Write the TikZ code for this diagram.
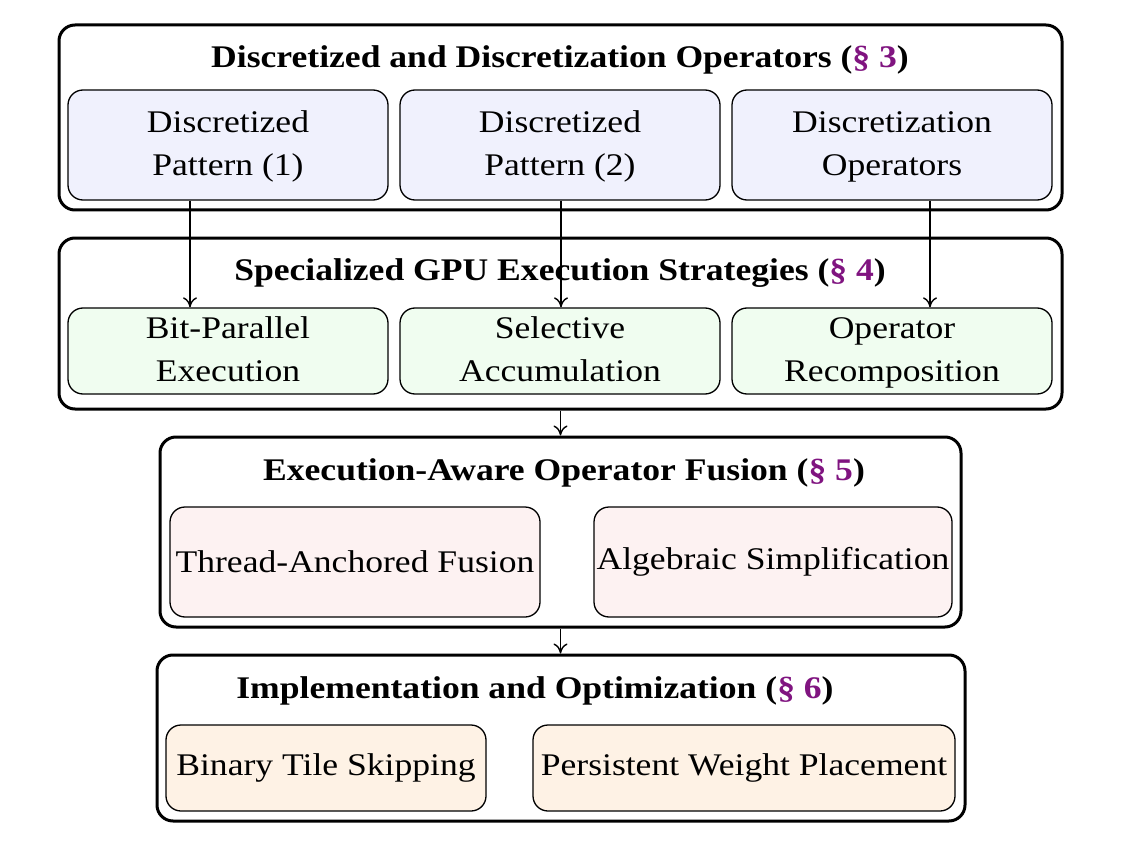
\documentclass[tikz,border=0pt]{standalone}
\usepackage{fontspec}
\setmainfont{Liberation Serif}[FakeStretch=1.13]
\usetikzlibrary{arrows.meta}
\definecolor{secc}{RGB}{128,20,128}
\definecolor{fblue}{RGB}{240,241,253}
\definecolor{fgreen}{RGB}{240,253,240}
\definecolor{fred}{RGB}{253,242,242}
\definecolor{forange}{RGB}{254,242,229}
\begin{document}
\begin{tikzpicture}[x=1pt,y=-1pt,
  outer/.style={draw,line width=3pt,rounded corners=16pt,inner sep=0pt},
  inner/.style={draw,line width=1.3pt,rounded corners=15pt,inner sep=0pt,align=center,
     font=\fontsize{31.5}{43}\selectfont},
  ttl/.style={font=\fontsize{31.5}{38}\selectfont\bfseries,inner sep=0pt},
  arr/.style={line width=1.4pt,-{To[length=10pt,width=14pt,line width=1.4pt]}}]
\useasboundingbox (0,0) rectangle (1144,848);
% outer boxes
\node[outer,minimum width=1003pt,minimum height=185pt] (o1) at (560.5,117.5) {};
\node[outer,minimum width=1003pt,minimum height=171pt] (o2) at (560.5,323.5) {};
\node[outer,minimum width=801pt,minimum height=190pt] (o3) at (560.5,532) {};
\node[outer,minimum width=808pt,minimum height=166pt] (o4) at (561,738) {};
% titles
\node[ttl] (t1) at (560,60) {Discretized and Discretization Operators (\textcolor{secc}{§ 3})};
\node[ttl] (t2) at (560,273) {Specialized GPU Execution Strategies (\textcolor{secc}{§ 4})};
\node[ttl] (t3) at (564,473) {Execution-Aware Operator Fusion (\textcolor{secc}{§ 5})};
\node[ttl] (t4) at (535,691) {Implementation and Optimization (\textcolor{secc}{§ 6})};
% row 1
\node[inner,fill=fblue,minimum width=320pt,minimum height=110pt] (a1) at (228,145) {\strut Discretized\\\strut Pattern (1)};
\node[inner,fill=fblue,minimum width=320pt,minimum height=110pt] (a2) at (560,145) {\strut Discretized\\\strut Pattern (2)};
\node[inner,fill=fblue,minimum width=320pt,minimum height=110pt] (a3) at (892,145) {\strut Discretization\\\strut Operators};
% row 2
\node[inner,fill=fgreen,minimum width=320pt,minimum height=86pt] (b1) at (228,351) {\strut Bit-Parallel\\\strut Execution};
\node[inner,fill=fgreen,minimum width=320pt,minimum height=86pt] (b2) at (560,351) {\strut Selective\\\strut Accumulation};
\node[inner,fill=fgreen,minimum width=320pt,minimum height=86pt] (b3) at (892,351) {\strut Operator\\\strut Recomposition};
% row 3
\node[inner,fill=fred,minimum width=370pt,minimum height=110pt] (c1) at (355,562) {Thread-Anchored Fusion};
\node[inner,fill=fred,minimum width=358pt,minimum height=110pt] (c2) at (773,562) {Algebraic Simplification};
% row 4
\node[inner,fill=forange,minimum width=320pt,minimum height=86pt] (d1) at (326,768) {Binary Tile Skipping};
\node[inner,fill=forange,minimum width=422pt,minimum height=86pt] (d2) at (744,768) {Persistent Weight Placement};
% arrows
\draw[arr] ([xshift=-38pt]a1.south) -- ([xshift=-38pt]b1.north);
\draw[arr] ([xshift=1pt]a2.south) -- ([xshift=1pt]b2.north);
\draw[arr] ([xshift=38pt]a3.south) -- ([xshift=38pt]b3.north);
\draw[arr] (o2.south) -- (o3.north);
\draw[arr] (o3.south) -- (o3.south |- o4.north);
\end{tikzpicture}
\end{document}
